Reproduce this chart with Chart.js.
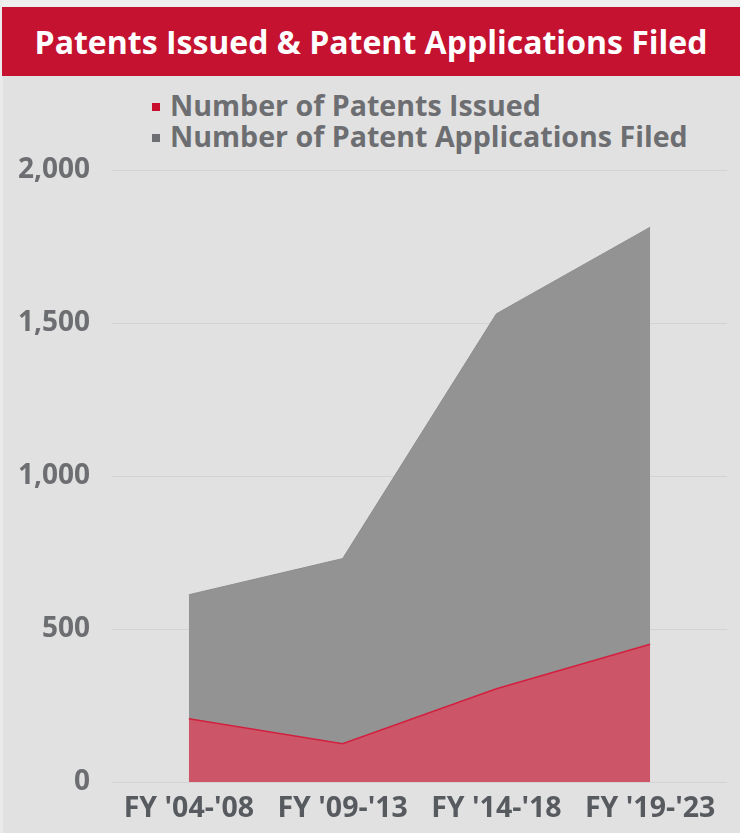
<!DOCTYPE html>
<html>
<head>
<meta charset="utf-8">
<script src="https://cdn.jsdelivr.net/npm/chart.js@4.4.1/dist/chart.umd.min.js"></script>
<style>
  html, body { margin: 0; padding: 0; }
  body { width: 740px; height: 833px; background: #e1e1e1; position: relative; overflow: hidden; font-family: "Open Sans", sans-serif; }
  #topstrip { position: absolute; left: 0; top: 0; width: 740px; height: 7px; background: #eeeeee; }
  #leftstrip { position: absolute; left: 0; top: 0; width: 3px; height: 833px; background: #ebebeb; }
  #title { position: absolute; left: 2px; top: 7px; width: 738px; height: 69px; background: #c41230; color: #fff;
           font-weight: 700; font-size: 32px; line-height: 69px; text-align: center; letter-spacing: 0px; }
  #legend { position: absolute; left: 152px; top: 89px; font-weight: 700; font-size: 28.6px; color: #6d6e71; }
  .li { height: 31px; line-height: 31px; white-space: nowrap; }
  .sw { display: inline-block; width: 8px; height: 8px; margin-right: 10px; vertical-align: middle; position: relative; top: -1px; }
  #wrap { position: absolute; left: 0; top: 76px; width: 740px; height: 757px; }
</style>
</head>
<body>
<div id="topstrip"></div>
<div id="leftstrip"></div>
<div id="title">Patents Issued &amp; Patent Applications Filed</div>
<div id="legend"></div>
<div id="wrap"><canvas id="c"></canvas></div>
<script>
const categories = ["FY '04-'08", "FY '09-'13", "FY '14-'18", "FY '19-'23"];
const patentsIssued = [207, 125, 305, 450];
const applicationsFiled = [612, 730, 1530, 1813];
const seriesNames = ["Number of Patents Issued", "Number of Patent Applications Filed"];
const yTicks = [0, 500, 1000, 1500, 2000];

const redFill = "#cc5668", redLine = "#d2203e", redSwatch = "#c8102e";
const grayFill = "#939394", grayLine = "#8d8d8e", graySwatch = "#6d6e71";

// HTML legend
const legendEl = document.getElementById('legend');
[[seriesNames[0], redSwatch], [seriesNames[1], graySwatch]].forEach(([name, col]) => {
  const d = document.createElement('div'); d.className = 'li';
  const s = document.createElement('span'); s.className = 'sw'; s.style.background = col;
  d.appendChild(s); d.appendChild(document.createTextNode(name));
  legendEl.appendChild(d);
});

new Chart(document.getElementById('c'), {
  type: 'line',
  data: {
    labels: categories,
    datasets: [
      { label: seriesNames[0], data: patentsIssued, fill: 'origin', backgroundColor: redFill, borderColor: redLine, borderWidth: 1.5, pointRadius: 0, tension: 0 },
      { label: seriesNames[1], data: applicationsFiled, fill: 'origin', backgroundColor: grayFill, borderColor: grayLine, borderWidth: 1, pointRadius: 0, tension: 0 }
    ]
  },
  options: {
    responsive: true,
    maintainAspectRatio: false,
    animation: false,
    layout: { padding: { top: 94, right: 13, bottom: 0, left: 0 } },
    plugins: { legend: { display: false }, tooltip: { enabled: false }, title: { display: false } },
    scales: {
      x: {
        offset: true,
        grid: { display: false, drawTicks: false },
        border: { display: false },
        ticks: { color: '#575a5f', font: { family: 'Open Sans', size: 28.5, weight: 'bold' }, padding: 10, maxRotation: 0, autoSkip: false },
        afterFit: s => { s.height = 51; }
      },
      y: {
        min: 0, max: 2000,
        afterBuildTicks: s => { s.ticks = yTicks.map(v => ({ value: v })); },
        grid: { color: '#d3d3d3', lineWidth: 1, drawTicks: false },
        border: { display: false },
        ticks: { color: '#6d6e71', font: { family: 'Open Sans', size: 28, weight: 'bold' }, padding: 22,
                 callback: v => v.toLocaleString('en-US') },
        afterFit: s => { s.width = 112; }
      }
    }
  }
});
</script>
</body>
</html>
